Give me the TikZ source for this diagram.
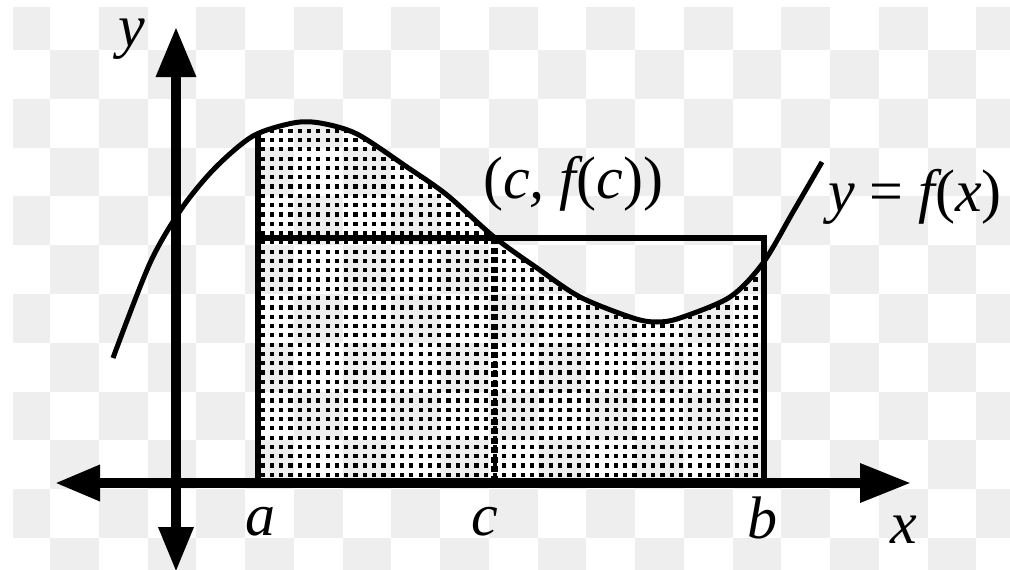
\documentclass[tikz,border=0pt]{standalone}
\usepackage{fontspec}
\setmainfont{Liberation Serif}
\usetikzlibrary{arrows.meta,patterns}
\pgfdeclarepatternformonly{pdots}{\pgfqpoint{-1pt}{-1pt}}{\pgfqpoint{10pt}{10pt}}{\pgfqpoint{9.3pt}{9.3pt}}{\pgfpathrectangle{\pgfqpoint{0pt}{0pt}}{\pgfqpoint{4.2pt}{4.2pt}}\pgfusepath{fill}}
\definecolor{sqgray}{RGB}{238,238,238}
\begin{document}
\begin{tikzpicture}[x=1pt,y=-1pt,
  sq/.style={fill=sqgray},
  lbl/.style={inner sep=0pt,font=\fontsize{60}{66}\selectfont\itshape},
  axisline/.style={line width=9.5pt,black},
  curveline/.style={line width=5pt,line join=round},
  boxline/.style={line width=5.2pt},
  cline/.style={line width=7pt,dash pattern=on 6pt off 3.5pt}]
\useasboundingbox (0,0) rectangle (1010,570);
\fill[white] (0,0) rectangle (1010,570);
% checkerboard
\foreach \i in {0,...,20}{
 \foreach \j in {0,...,11}{
  \pgfmathtruncatemacro\s{mod(\i+\j,2)}
  \ifnum\s=0
   \pgfmathsetmacro\xa{\i==0 ? 13 : 50+48.75*(\i-1)}
   \pgfmathsetmacro\xb{min(50+48.75*\i,1010)}
   \pgfmathsetmacro\ya{\j==0 ? 7 : 50+48.8*(\j-1)}
   \pgfmathsetmacro\yb{min(50+48.8*\j,570)}
   \fill[sq] (\xa,\ya) rectangle (\xb,\yb);
  \fi
 }}
% coordinates
\coordinate (O) at (176,483);
\coordinate (xl) at (55,483);
\coordinate (xr) at (911,483);
\coordinate (yt) at (176,27);
\coordinate (yb) at (176,572);
\coordinate (a0) at (258,483);
\coordinate (aT) at (258,133);
\coordinate (aM) at (258,238);
\coordinate (b0) at (764,483);
\coordinate (bM) at (764,238);
\coordinate (c0) at (494,483);
\coordinate (cM) at (494,238);
% shaded region under the curve
\begin{scope}
\clip (258,0) rectangle (764,483);
\fill[pattern=pdots,pattern color=black]
  plot[smooth,tension=0.5] coordinates {(113,358) (150,263) (182,208) (215,168) (253,136) (293,123) (320,123) (357,134) (407,167) (447,195) (494,237) (537,268) (580,297) (633,318) (657,322) (680,318) (730,297) (763,263) (793,212) (822,162)}
  -- (822,483) -- (113,483) -- cycle;
\end{scope}
% rectangle
\draw[boxline] (a0) -- (aT);
\draw[boxline] (aM) -- (bM) -- (b0);
\draw[cline] (cM) -- (c0);
% curve
\draw[curveline] plot[smooth,tension=0.5] coordinates {(113,358) (150,263) (182,208) (215,168) (253,136) (293,123) (320,123) (357,134) (407,167) (447,195) (494,237) (537,268) (580,297) (633,318) (657,322) (680,318) (730,297) (763,263) (793,212) (822,162)};
% axes
\draw[axisline,{Triangle[length=45pt,width=34pt]}-{Triangle[length=51pt,width=37pt]}] (xl) -- (xr);
\draw[axisline,{Triangle[length=45pt,width=33pt]}-{Triangle[length=50pt,width=38pt]}] (yb) -- (yt);
% labels
\node[lbl,anchor=base] (ylab) at (132,46) {y};
\node[lbl,anchor=base] (xlab) at (904,543) {x};
\node[lbl,anchor=base] (alab) at (260,535) {a};
\node[lbl,anchor=base] (clab) at (485,535) {c};
\node[lbl,anchor=base] (blab) at (762,538) {b};
\node[lbl,anchor=base west] (cfc) at (483,198) {\upshape(\itshape c, f\upshape(\itshape c\upshape))};
\node[lbl,anchor=base west] (yfx) at (828,211) {y \upshape= \itshape f\upshape(\itshape x\upshape)};
\end{tikzpicture}
\end{document}
